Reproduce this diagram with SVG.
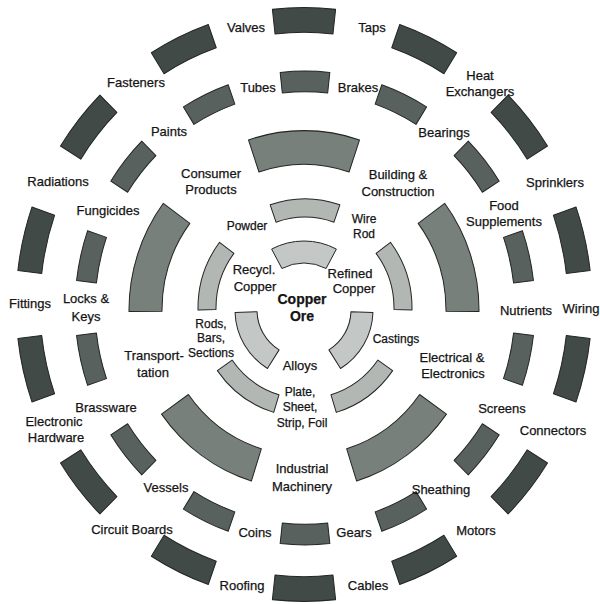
<svg xmlns="http://www.w3.org/2000/svg" width="600" height="604" viewBox="0 0 600 604">
<style>
.seg{stroke:#222624;stroke-width:1;stroke-linejoin:round}
.r5{fill:#424a47}
.r4{fill:#58615d}
.r3{fill:#78807c}
.r2{fill:#b2b7b4}
.r1{fill:#c3c7c5}
text{font-family:"Liberation Sans",Arial,sans-serif;font-size:13px;fill:#141414;stroke:#141414;stroke-width:0.25;text-anchor:middle}
.s12{font-size:12px}
.core{font-size:14px;font-weight:bold}
</style>
<defs>
<path id="s5" d="M-31.60,-286.26 A288,288 0 0 1 31.60,-286.26 L28.97,-262.41 A264,264 0 0 0 -28.97,-262.41 Z"/>
<path id="s4" d="M-24.84,-228.65 A230,230 0 0 1 24.84,-228.65 L22.68,-208.77 A210,210 0 0 0 -22.68,-208.77 Z"/>
<path id="s3" d="M-55.53,-165.96 A175,175 0 0 1 55.53,-165.96 L45.06,-134.66 A142,142 0 0 0 -45.06,-134.66 Z"/>
<path id="s2" d="M-34.84,-101.17 A107,107 0 0 1 34.84,-101.17 L28.98,-84.15 A89,89 0 0 0 -28.98,-84.15 Z"/>
<path id="s1" d="M-32.39,-60.92 A69,69 0 0 1 32.39,-60.92 L22.07,-41.50 A47,47 0 0 0 -22.07,-41.50 Z"/>
</defs>

<g id="ring5" class="seg r5" transform="translate(304,304.5) scale(1,1.031)">
<use href="#s5"/>
<use href="#s5" transform="rotate(25.714)"/>
<use href="#s5" transform="rotate(51.429)"/>
<use href="#s5" transform="rotate(77.143)"/>
<use href="#s5" transform="rotate(102.857)"/>
<use href="#s5" transform="rotate(128.571)"/>
<use href="#s5" transform="rotate(154.286)"/>
<use href="#s5" transform="rotate(180)"/>
<use href="#s5" transform="rotate(205.714)"/>
<use href="#s5" transform="rotate(231.429)"/>
<use href="#s5" transform="rotate(257.143)"/>
<use href="#s5" transform="rotate(282.857)"/>
<use href="#s5" transform="rotate(308.571)"/>
<use href="#s5" transform="rotate(334.286)"/>
</g>

<g id="ring4" class="seg r4" transform="translate(305,308) scale(1,1.03)">
<use href="#s4"/>
<use href="#s4" transform="rotate(25.714)"/>
<use href="#s4" transform="rotate(51.429)"/>
<use href="#s4" transform="rotate(77.143)"/>
<use href="#s4" transform="rotate(102.857)"/>
<use href="#s4" transform="rotate(128.571)"/>
<use href="#s4" transform="rotate(154.286)"/>
<use href="#s4" transform="rotate(180)"/>
<use href="#s4" transform="rotate(205.714)"/>
<use href="#s4" transform="rotate(231.429)"/>
<use href="#s4" transform="rotate(257.143)"/>
<use href="#s4" transform="rotate(282.857)"/>
<use href="#s4" transform="rotate(308.571)"/>
<use href="#s4" transform="rotate(334.286)"/>
</g>

<g id="ring3" class="seg r3" transform="translate(304,310) scale(1,1.025)">
<use href="#s3"/>
<use href="#s3" transform="rotate(72)"/>
<use href="#s3" transform="rotate(144)"/>
<use href="#s3" transform="rotate(216)"/>
<use href="#s3" transform="rotate(288)"/>
</g>

<g id="ring2" class="seg r2" transform="translate(305,308) scale(1,1.02)">
<use href="#s2"/>
<use href="#s2" transform="rotate(72)"/>
<use href="#s2" transform="rotate(144)"/>
<use href="#s2" transform="rotate(216)"/>
<use href="#s2" transform="rotate(288)"/>
</g>

<g id="ring1" class="seg r1" transform="translate(304,310)">
<use href="#s1"/>
<use href="#s1" transform="rotate(120)"/>
<use href="#s1" transform="rotate(240)"/>
</g>

<g id="labels-outer">
<text x="246" y="31.5">Valves</text>
<text x="372" y="31.5">Taps</text>
<text x="480" y="79.5">Heat</text>
<text x="480" y="95.5">Exchangers</text>
<text x="555" y="186.5">Sprinklers</text>
<text x="581" y="312.5">Wiring</text>
<text x="553" y="434.5">Connectors</text>
<text x="476" y="534.5">Motors</text>
<text x="368" y="589.5">Cables</text>
<text x="242" y="589.5">Roofing</text>
<text x="132" y="533.5">Circuit Boards</text>
<text x="54" y="425.5">Electronic</text>
<text x="56" y="441.5">Hardware</text>
<text x="30" y="307.5">Fittings</text>
<text x="58" y="185.5">Radiations</text>
<text x="136" y="86.5">Fasteners</text>
</g>

<g id="labels-ring4">
<text x="258" y="91.5">Tubes</text>
<text x="358" y="91.5">Brakes</text>
<text x="444" y="136.5">Bearings</text>
<text x="504" y="209.5">Food</text>
<text x="504" y="225.5">Supplements</text>
<text x="526" y="314.5">Nutrients</text>
<text x="502" y="412.5">Screens</text>
<text x="441" y="493.5">Sheathing</text>
<text x="354" y="536.5">Gears</text>
<text x="255" y="536.5">Coins</text>
<text x="166" y="491.5">Vessels</text>
<text x="106" y="411.5">Brassware</text>
<text x="86" y="302.5">Locks &amp;</text>
<text x="86" y="320.5">Keys</text>
<text x="108" y="214.5">Fungicides</text>
<text x="169" y="135.5">Paints</text>
</g>

<g id="labels-ring3">
<text x="211" y="177.5">Consumer</text>
<text x="211" y="193.5">Products</text>
<text x="398" y="178.5">Building &amp;</text>
<text x="398" y="195.5">Construction</text>
<text x="452" y="361.5">Electrical &amp;</text>
<text x="453" y="377.5">Electronics</text>
<text x="302" y="472.5">Industrial</text>
<text x="302" y="490.5">Machinery</text>
<text x="154" y="359.5">Transport-</text>
<text x="153" y="376.5">tation</text>
</g>

<g id="labels-ring2">
<text class="s12" x="247" y="230">Powder</text>
<text class="s12" x="364" y="223">Wire</text>
<text class="s12" x="364" y="238">Rod</text>
<text class="s12" x="396" y="343">Castings</text>
<text class="s12" x="300" y="396">Plate,</text>
<text class="s12" x="300" y="411">Sheet,</text>
<text class="s12" x="302" y="427">Strip, Foil</text>
<text class="s12" x="211" y="328">Rods,</text>
<text class="s12" x="211" y="342">Bars,</text>
<text class="s12" x="211" y="357">Sections</text>
</g>

<g id="labels-ring1">
<text x="254" y="273.5">Recycl.</text>
<text x="255" y="290.5">Copper</text>
<text x="350" y="277.5">Refined</text>
<text x="354" y="292.5">Copper</text>
<text x="300" y="369.5">Alloys</text>
</g>

<g id="core">
<text class="core" x="302" y="304">Copper</text>
<text class="core" x="302" y="321">Ore</text>
</g>
</svg>
